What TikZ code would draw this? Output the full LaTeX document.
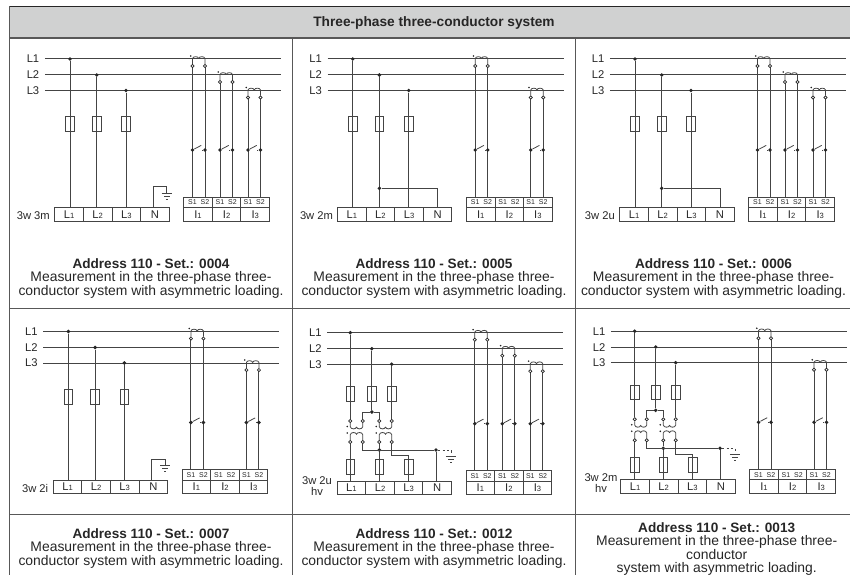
\documentclass[tikz,border=0pt]{standalone}
\usepackage{fontspec}
\setmainfont{Liberation Sans}
\usetikzlibrary{calc}
\definecolor{ink}{HTML}{262626}
\definecolor{wirec}{HTML}{444444}
\definecolor{frame}{HTML}{585858}
\definecolor{head}{HTML}{D0D1D1}
\newcommand{\smd}[1]{{\fontsize{7.6}{7.6}\selectfont #1}}
\tikzset{
 wire/.style={draw=wirec,line width=1pt},
 fineline/.style={draw=wirec,line width=0.8pt},
 framing/.style={draw=frame,line width=1.3pt},
 fuse/.style={draw=wirec,line width=0.85pt,minimum width=8.6pt,minimum height=14.8pt,inner sep=0pt},
 jdot/.style={circle,fill=ink,inner sep=0pt,minimum size=3.9pt},
 tick/.style={circle,fill=ink,inner sep=0pt,minimum size=1.8pt},
 ring/.style={circle,draw=ink,line width=0.7pt,fill=white,inner sep=0pt,minimum size=3.2pt},
 term/.style={draw=wirec,line width=0.9pt,minimum width=28.6pt,minimum height=13.5pt,inner sep=0pt,text=ink,font=\fontsize{11.2}{11.2}\selectfont},
 stb/.style={draw=wirec,line width=0.9pt,minimum width=28.6pt,minimum height=10.5pt,inner sep=0pt},
 stxt/.style={inner sep=0pt,text=ink,font=\fontsize{7}{7}\selectfont},
 lab/.style={inner sep=0pt,text=ink,font=\fontsize{11.2}{11.2}\selectfont},
 capb/.style={anchor=base,inner sep=0pt,text=ink,font=\fontsize{13.6}{13.6}\selectfont\bfseries},
 capt/.style={anchor=base,inner sep=0pt,text=ink,font=\fontsize{13.9}{13.9}\selectfont},
}
% base of a panel: three lines, terminals
\newcommand{\Base}[1]{%
 \foreach \n/\yy in {1/59,2/75,3/90.5}{
  \node[lab] (#1LL\n) at (33,\yy) {L\n};
  \coordinate (#1la\n) at (44.8,\yy);
  \coordinate (#1lb\n) at (281,\yy);
  \draw[wire] (#1la\n) -- (#1lb\n);
 }
 \node[term] (#1L1) at (69.1,214.3) {L\smd{1}};
 \node[term] (#1L2) at (97.7,214.3) {L\smd{2}};
 \node[term] (#1L3) at (126.3,214.3) {L\smd{3}};
 \node[term] (#1N) at (154.9,214.3) {N};
 \foreach \n/\xx in {1/198,2/226.6,3/255.2}{
  \node[stb] (#1SB\n) at (\xx,202.3) {};
  \node[term] (#1I\n) at (\xx,214.3) {I\smd{\n}};
 }
 \foreach \n/\xa/\xb in {1/192.5/205,2/220/232.5,3/248/260.5}{
  \node[stxt] (#1SS\n) at (\xa,202.5) {S1};
  \node[stxt] (#1ST\n) at (\xb,202.5) {S2};
 }
}
% current transformer: name, x1, x2, line y, switch y, top of terminal
\newcommand{\CT}[6]{%
 \draw[wire] (#2,{#4+7}) -- (#2,#6);
 \draw[wire] (#3,{#4+7}) -- (#3,#6);
 \node[ring] (#1a) at (#2,{#4+7}) {};
 \node[ring] (#1b) at (#3,{#4+7}) {};
 \node[tick] (#1m) at ({#2-1.7},{#4-3}) {};
 \node[jdot] (#1s) at (#2,#5) {};
 \node[jdot] (#1e) at (#3,#5) {};
 \coordinate (#1tip) at ({#2+8.7},{#5-4.6});
 \coordinate (#1stub) at ({#3-3.2},#5);
 \draw[fineline] (#1a) -- (#2,{#4-0.5}) .. controls ({#2+0.6},{#4-2.9}) and ({(#2+#3)/2-0.7},{#4-2.9}) .. ({(#2+#3)/2},{#4-0.6})
   .. controls ({(#2+#3)/2+0.7},{#4-2.9}) and ({#3-0.6},{#4-2.9}) .. (#3,{#4-0.5}) -- (#1b);
 \draw[fineline] (#1s) -- (#1tip);
 \draw[fineline] (#1e) -- (#1stub);
}
% fuse tap to terminal
\newcommand{\Tap}[4]{% name, x, line y, terminal
 \node[jdot] (#1t) at (#2,#3) {};
 \node[fuse] (#1f) at (#2,124.2) {};
 \draw[wire] (#1t) -- (#1t |- #4.north);
}
\newcommand{\Gnd}[3]{% name, x, y top bar
 \coordinate (#1g1) at ({#2-5.2},#3); \coordinate (#1g2) at ({#2+5.2},#3);
 \coordinate (#1g3) at ({#2-2.8},{#3+3}); \coordinate (#1g4) at ({#2+2.8},{#3+3});
 \coordinate (#1g5) at ({#2-1},{#3+5.6}); \coordinate (#1g6) at ({#2+1},{#3+5.6});
 \draw[fineline] (#1g1) -- (#1g2); \draw[fineline] (#1g3) -- (#1g4); \draw[fineline] (#1g5) -- (#1g6);
}
% hv transformer wiring: name, xa, xb, xc, xd, x L2 tap, x lower L3, x N, y shift
\newcommand{\HV}[9]{%
 \begin{scope}[yshift=#9]
 \node[jdot] (#1j) at (#6,412) {};
 \foreach \n/\xx in {a/#2,b/#3,c/#4,d/#5}{
  \node[ring] (#1u\n) at (\xx,421) {};
  \node[ring] (#1l\n) at (\xx,442) {};
 }
 \node[tick] (#1ka) at ({#2-3},426.5) {};
 \node[tick] (#1kc) at ({#4-3},426.5) {};
 \node[tick] (#1ma) at ({#2-3},433) {};
 \node[tick] (#1mc) at ({#4-3},433) {};
 \foreach \p/\q in {a/b,c/d}{
  \path (#1u\p) -- (#1u\q) coordinate[pos=0.5] (#1um\p) (#1l\p) -- (#1l\q) coordinate[pos=0.5] (#1lm\p);
  \draw[fineline] (#1u\p) -- (#1u\p |- 0,426.8) .. controls ($(#1u\p |- 0,429.5)+(0.6,0)$) and ($(#1um\p |- 0,429.5)+(-0.7,0)$) .. (#1um\p |- 0,427.2)
    .. controls ($(#1um\p |- 0,429.5)+(0.7,0)$) and ($(#1u\q |- 0,429.5)+(-0.6,0)$) .. (#1u\q |- 0,426.8) -- (#1u\q);
  \draw[fineline] (#1l\p) -- (#1l\p |- 0,434.6) .. controls ($(#1l\p |- 0,431.9)+(0.6,0)$) and ($(#1lm\p |- 0,431.9)+(-0.7,0)$) .. (#1lm\p |- 0,434.2)
    .. controls ($(#1lm\p |- 0,431.9)+(0.7,0)$) and ($(#1l\q |- 0,431.9)+(-0.6,0)$) .. (#1l\q |- 0,434.6) -- (#1l\q);
 }
 \draw[wire] (#1ub) |- (#1j) -| (#1uc);
 \node[fuse] (#1fa) at (#2,466.7) {};
 \node[fuse] (#1fc) at (#4,466.7) {};
 \node[fuse] (#1fd) at (#7,466.7) {};
 \node[jdot] (#1b2) at (#4,450) {};
 \node[jdot] (#1bn) at (#8,450) {};
 \draw[wire] (#1lb) |- (#1bn);
 \draw[wire] (#1lc) -- (#1b2);
 \draw[wire] (#1ld) |- (#7,455.7) coordinate (#1dog);
 \coordinate (#1dash) at ({#8+15},450);
 \coordinate (#1dn) at ({#8+15},453.5);
 \draw[fineline,dash pattern=on 2.2pt off 2.2pt] (#1bn) -- (#1dash) -- (#1dn);
 \Gnd{#1}{(#8+15)}{456.4}
 \end{scope}
}
\begin{document}
\begin{tikzpicture}[x=1pt,y=-1pt]
\useasboundingbox (0,0) rectangle (850,575);
% table
\coordinate (tl) at (9.6,6.5); \coordinate (hr) at (850,38);
\fill[head] (tl) rectangle (hr);
\node[inner sep=0pt,text=ink,font=\fontsize{13.7}{13.7}\selectfont\bfseries] (titletext) at (434,23.3) {Three-phase three-conductor system};
\draw[framing,draw=ink,line width=1.1pt] (tl) -- (850,6.5);
\draw[framing] (9.6,38) -- (850,38);
\draw[framing] (9.6,308.7) -- (850,308.7);
\draw[framing] (9.6,514.7) -- (850,514.7);
\draw[framing] (9.6,6.5) -- (9.6,575);
\draw[framing] (292.6,38) -- (292.6,575);
\draw[framing] (575.7,38) -- (575.7,575);

% panel 1
\begin{scope}
 \Base{pa}
 \Tap{paa}{70}{59}{paL1} \Tap{pab}{96.7}{75}{paL2} \Tap{pac}{126}{90.5}{paL3}
 \CT{pax}{192.5}{205}{59}{150}{197}
 \CT{pay}{220}{232.5}{75}{150}{197}
 \CT{paz}{248}{260.5}{90.5}{150}{197}
 \coordinate (pag0) at (153.4,186.7); \coordinate (pag1) at (166.8,193.3);
 \draw[fineline] (paN.north -| pag0) -- (pag0) -| (pag1);
 \Gnd{pag}{166.8}{193.3}
 \node[lab,anchor=east] (pan) at (50,216) {3w 3m};
\end{scope}
% panel 2
\begin{scope}[xshift=282.7pt]
 \Base{pb}
 \Tap{pba}{70}{59}{pbL1} \Tap{pbb}{96.7}{75}{pbL2} \Tap{pbc}{126}{90.5}{pbL3}
 \CT{pbx}{192.5}{205}{59}{150}{197}
 \CT{pbz}{248}{260.5}{90.5}{150}{197}
 \node[jdot] (pbj) at (96.7,188.3) {};
 \draw[fineline] (pbj) -| (pbN.north);
 \node[lab,anchor=east] (pbn) at (50.5,216) {3w 2m};
\end{scope}
% panel 3
\begin{scope}[xshift=565pt]
 \Base{pc}
 \Tap{pca}{70}{59}{pcL1} \Tap{pcb}{96.7}{75}{pcL2} \Tap{pcc}{126}{90.5}{pcL3}
 \CT{pcx}{192.5}{205}{59}{150}{197}
 \CT{pcy}{220}{232.5}{75}{150}{197}
 \CT{pcz}{248}{260.5}{90.5}{150}{197}
 \node[jdot] (pcj) at (96.7,188.3) {};
 \draw[fineline] (pcj) -| (pcN.north);
 \node[lab,anchor=east] (pcn) at (50,216) {3w 2u};
\end{scope}
% panel 4
\begin{scope}[xshift=-1.6pt,yshift=-272.5pt]
 \Base{pd}
 \Tap{pda}{70}{59}{pdL1} \Tap{pdb}{96.7}{75}{pdL2} \Tap{pdc}{126}{90.5}{pdL3}
 \CT{pdx}{192.5}{205}{59}{150}{197}
 \CT{pdz}{248}{260.5}{90.5}{150}{197}
 \coordinate (pdg0) at (153.4,186.7); \coordinate (pdg1) at (166.8,193.3);
 \draw[fineline] (pdN.north -| pdg0) -- (pdg0) -| (pdg1);
 \Gnd{pdg}{166.8}{193.3}
 \node[lab,anchor=east] (pdn) at (50,216) {3w 2i};
\end{scope}
% panel 5
\begin{scope}[xshift=282.3pt,yshift=-273.7pt]
 \Base{pe}
 \CT{pex}{192.5}{205}{59}{150}{197}
 \CT{pey}{220}{232.5}{75}{150}{197}
 \CT{pez}{248}{260.5}{90.5}{150}{197}
\end{scope}
\HV{pv}{350.3}{362.7}{379.3}{391.7}{371.8}{408.7}{436}{0pt}
\node[jdot] (peta) at (350.3,332.7) {}; \node[jdot] (petb) at (371.8,348.7) {}; \node[jdot] (petc) at (391.7,364.2) {};
\node[fuse] (pefa) at (350.3,394.2) {}; \node[fuse] (pefb) at (371.8,394.2) {}; \node[fuse] (pefc) at (391.7,394.2) {};
\draw[wire] (peta) -- (pvua); \draw[wire] (petb) -- (pvj); \draw[wire] (petc) -- (pvud);
\draw[wire] (pvla) -- (pvla |- peL1.north);
\draw[wire] (pvb2) -- (pvb2 |- peL2.north);
\draw[wire] (pvdog) -- (pvdog |- peL3.north);
\draw[wire] (pvbn) -- (pvbn |- peN.north);
\node[lab] (pen1) at (317,480.3) {3w 2u};
\node[lab] (pen2) at (317,491) {hv};
% panel 6
\begin{scope}[xshift=566pt,yshift=-272.3pt]
 \Base{pf}
 \CT{pfx}{192.5}{205}{59}{150}{197}
 \CT{pfz}{248}{260.5}{90.5}{150}{197}
\end{scope}
\HV{pw}{634.7}{646.7}{663.3}{675.7}{655.7}{692.7}{720}{1.7pt}
\node[jdot] (pfta) at (634.7,331.2) {}; \node[jdot] (pftb) at (655.7,347) {}; \node[jdot] (pftc) at (675.7,362.7) {};
\node[fuse] (pffa) at (634.7,392.5) {}; \node[fuse] (pffb) at (655.7,392.5) {}; \node[fuse] (pffc) at (675.7,392.5) {};
\draw[wire] (pfta) -- (pwua); \draw[wire] (pftb) -- (pwj); \draw[wire] (pftc) -- (pwud);
\draw[wire] (pwla) -- (pwla |- pfL1.north);
\draw[wire] (pwb2) -- (pwb2 |- pfL2.north);
\draw[wire] (pwdog) -- (pwdog |- pfL3.north);
\draw[wire] (pwbn) -- (pwbn |- pfN.north);
\node[lab] (pfn1) at (601,477.3) {3w 2m};
\node[lab] (pfn2) at (601,488.2) {hv};
% captions
\foreach \p/\xx/\yy/\ss in {a/151/268.2/0004,b/434/268.2/0005,c/713.5/268.2/0006,d/151/538.4/0007,e/434/538.4/0012}{
 \node[capb] (c\p1) at (\xx,\yy) {Address 110 - Set.: \ss};
 \node[capt] (c\p2) at (\xx,\yy+13.4) {Measurement in the three-phase three-};
 \node[capt] (c\p3) at (\xx,\yy+27.3) {conductor system with asymmetric loading.};
}
\node[capb] (cf1) at (716.7,532.3) {Address 110 - Set.: 0013};
\node[capt] (cf2) at (716.7,545.7) {Measurement in the three-phase three-};
\node[capt] (cf3) at (716.7,559.2) {conductor};
\node[capt] (cf4) at (716.7,572.4) {system with asymmetric loading.};
\end{tikzpicture}
\end{document}
